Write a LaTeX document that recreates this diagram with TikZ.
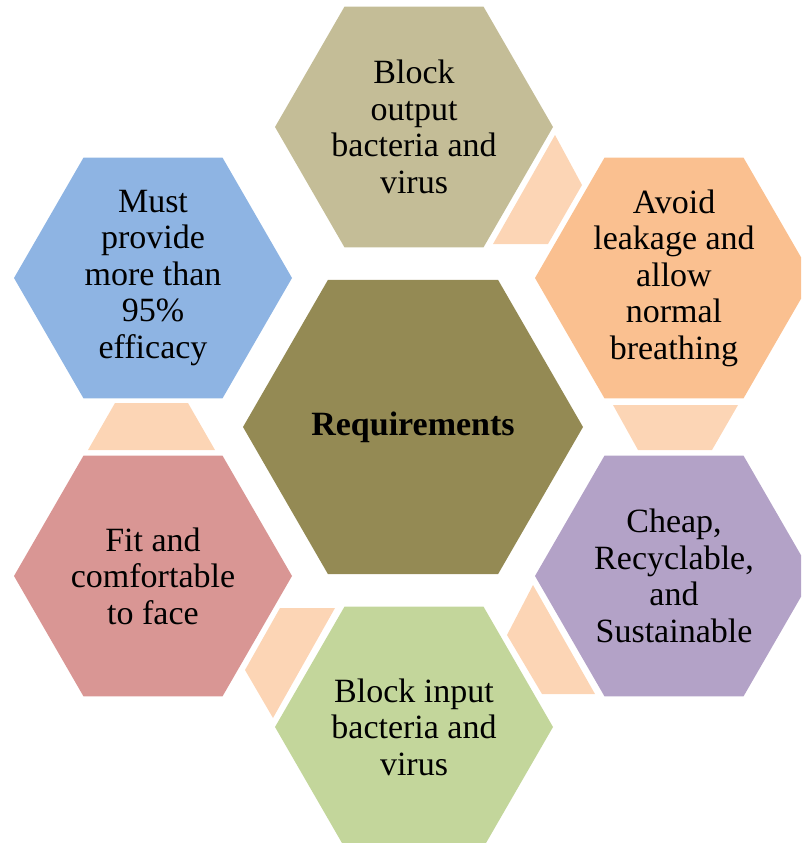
\documentclass[tikz,border=0pt]{standalone}
\usepackage{fontspec}
\setmainfont{Liberation Serif}
\usetikzlibrary{shapes.geometric}

\definecolor{hexTan}{HTML}{C4BD97}
\definecolor{hexOrange}{HTML}{FAC090}
\definecolor{hexPurple}{HTML}{B3A2C7}
\definecolor{hexGreen}{HTML}{C3D69B}
\definecolor{hexRose}{HTML}{D99694}
\definecolor{hexBlue}{HTML}{8EB4E3}
\definecolor{hexOlive}{HTML}{948A54}
\definecolor{linkPeach}{HTML}{FCD5B5}

\tikzset{
  hexbase/.style={regular polygon, regular polygon sides=6, inner sep=0pt,
    outer sep=0pt, draw=none},
  hexouter/.style={hexbase, minimum size=278pt},
  hexcentre/.style={hexbase, minimum size=340pt},
  hextext/.style={align=center, inner sep=0pt,
    font=\fontsize{34}{36.5}\selectfont},
  linkpiece/.style={fill=linkPeach, draw=none},
}

\begin{document}
\begin{tikzpicture}[x=1pt, y=-1pt]
  \useasboundingbox (0,0) rectangle (801,843);
  \clip (0,0) rectangle (801,843);

  % outer ring of requirement hexagons
  \node[hexouter, fill=hexTan]    (top)   at (414,127) {};
  \node[hexouter, fill=hexOrange] (upr)   at (674,278) {};
  \node[hexouter, fill=hexPurple] (lowr)  at (674,576) {};
  \node[hexouter, fill=hexGreen]  (bot)   at (414,727) {};
  \node[hexouter, fill=hexRose]   (lowl)  at (153,576) {};
  \node[hexouter, fill=hexBlue]   (upl)   at (153,278) {};

  % central hexagon
  \node[hexcentre, fill=hexOlive] (core) at (413,427) {};

  % linking pieces between neighbouring hexagons
  \fill[linkpiece] (555,135) -- (582,185) -- (548,244) -- (493,244) -- cycle;
  \fill[linkpiece] (613,405) -- (738,405) -- (712,450) -- (638,450) -- cycle;
  \fill[linkpiece] (533,585) -- (595,694) -- (542,694) -- (507,635) -- cycle;
  \fill[linkpiece] (280,608) -- (335,608) -- (273,718) -- (245,670) -- cycle;
  \fill[linkpiece] (115,403) -- (188,403) -- (215,450) -- (88,450) -- cycle;

  % labels
  \node[hextext] (topText)  at (top)  {Block\\output\\bacteria and\\virus};
  \node[hextext] (uprText)  at (upr)  {Avoid\\leakage and\\allow\\normal\\breathing};
  \node[hextext] (lowrText) at (lowr) {Cheap,\\Recyclable,\\and\\Sustainable};
  \node[hextext] (botText)  at (bot)  {Block input\\bacteria and\\virus};
  \node[hextext] (lowlText) at (lowl) {Fit and\\comfortable\\to face};
  \node[hextext] (uplText)  at (upl)  {Must\\provide\\more than\\95\%\\efficacy};
  \node[hextext, font=\fontsize{34}{36.5}\selectfont\bfseries] (coreText) at (core) {Requirements};
\end{tikzpicture}
\end{document}
